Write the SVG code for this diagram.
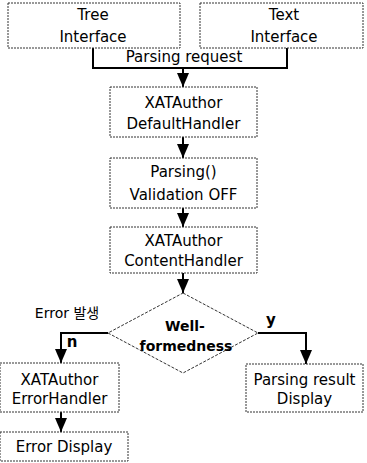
<svg xmlns="http://www.w3.org/2000/svg" width="367" height="463" viewBox="0 0 367 463">
<defs>
<marker id="ah" viewBox="0 0 14 12" refX="14" refY="6" markerWidth="14" markerHeight="12" markerUnits="userSpaceOnUse" orient="auto">
<path d="M0,0 L14,6 L0,12 Z" fill="#000"/>
</marker>
<style>
.box{fill:#fff;stroke:#333;stroke-width:1;stroke-dasharray:2 1}
.t{font-family:"DejaVu Sans","Noto Sans CJK KR",sans-serif;font-size:15px;fill:#000;text-anchor:middle}
.b{font-family:"DejaVu Sans","Noto Sans CJK KR",sans-serif;font-size:14px;font-weight:bold;fill:#000;text-anchor:middle}
.c{fill:none;stroke:#000;stroke-width:2}
</style>
</defs>
<rect width="367" height="463" fill="#fff"/>
<g id="connectors">
<polyline class="c" points="93,48 93,68 287,68 287,48"/>
<line class="c" x1="183" y1="68" x2="183" y2="87" marker-end="url(#ah)"/>
<line class="c" x1="183" y1="137" x2="183" y2="158" marker-end="url(#ah)"/>
<line class="c" x1="183" y1="208" x2="183" y2="227" marker-end="url(#ah)"/>
<line class="c" x1="183" y1="273" x2="183" y2="293" marker-end="url(#ah)"/>
<polyline class="c" points="108,333 61,333 61,363" marker-end="url(#ah)"/>
<polyline class="c" points="258,333 306,333 306,364" marker-end="url(#ah)"/>
<line class="c" x1="61" y1="412" x2="61" y2="432" marker-end="url(#ah)"/>
<text class="t" x="184" y="62">Parsing request</text>
<text class="b" x="72" y="347" style="font-size:15px">n</text>
<text class="b" x="271" y="325" style="font-size:15px">y</text>
<text class="t" x="67" y="318" style="font-size:14px">Error 발생</text>
</g>
<g id="tree">
<rect class="box" x="8" y="3" width="172" height="45"/>
<text class="t" x="93" y="20">Tree</text>
<text class="t" x="93" y="42">Interface</text>
</g>
<g id="textif">
<rect class="box" x="200" y="3" width="163" height="45"/>
<text class="t" x="284" y="20">Text</text>
<text class="t" x="284" y="42">Interface</text>
</g>
<g id="default">
<rect class="box" x="110" y="87" width="147" height="50"/>
<text class="t" x="183.5" y="108">XATAuthor</text>
<text class="t" x="183.5" y="129">DefaultHandler</text>
</g>
<g id="parsing">
<rect class="box" x="110" y="158" width="147" height="50"/>
<text class="t" x="183.5" y="177">Parsing()</text>
<text class="t" x="183.5" y="200">Validation OFF</text>
</g>
<g id="content">
<rect class="box" x="110" y="227" width="147" height="46"/>
<text class="t" x="183.5" y="246">XATAuthor</text>
<text class="t" x="183.5" y="266">ContentHandler</text>
</g>
<g id="decision">
<polygon points="183,293 258,333 183,373 108,333" fill="#fff" stroke="#333" stroke-width="1" stroke-dasharray="3 1.5"/>
<text class="b" x="185" y="331">Well-</text>
<text class="b" x="186" y="351">formedness</text>
</g>
<g id="errorhandler">
<rect class="box" x="0" y="363" width="119" height="49"/>
<text class="t" x="59.5" y="385">XATAuthor</text>
<text class="t" x="59.5" y="404">ErrorHandler</text>
</g>
<g id="errordisplay">
<rect class="box" x="0" y="432" width="128" height="29"/>
<text class="t" x="64" y="452">Error Display</text>
</g>
<g id="result">
<rect class="box" x="246" y="364" width="117" height="48"/>
<text class="t" x="304.5" y="385">Parsing result</text>
<text class="t" x="304.5" y="404">Display</text>
</g>
</svg>
